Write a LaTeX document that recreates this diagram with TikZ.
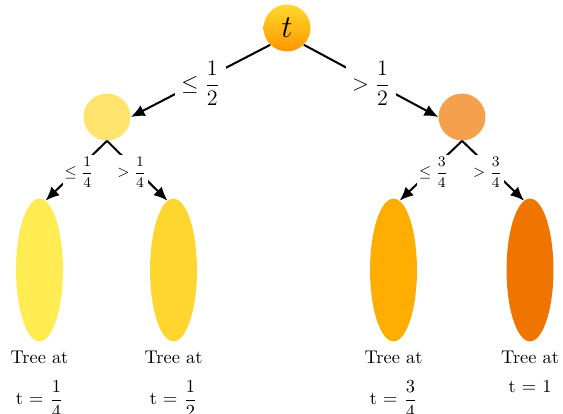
\documentclass[tikz,border=0pt]{standalone}
\usepackage{amsmath}
\usetikzlibrary{arrows.meta, positioning, shapes.geometric}

\definecolor{rootTop}{RGB}{255,217,45}
\definecolor{rootBot}{RGB}{255,150,0}
\definecolor{lowMid}{RGB}{255,227,110}
\definecolor{highMid}{RGB}{244,160,76}
\definecolor{leafOne}{RGB}{255,236,82}
\definecolor{leafTwo}{RGB}{255,214,48}
\definecolor{leafThree}{RGB}{255,173,0}
\definecolor{leafFour}{RGB}{240,117,0}

\begin{document}
\begin{tikzpicture}[scale = 0.0191,
  split/.style = {circle, minimum size = 25.5pt, inner sep = 0pt},
  leaf/.style = {ellipse, minimum width = 25.5pt, minimum height = 77.6pt, inner sep = 0pt},
  branch/.style = {line width = 1.1pt, -{Latex[length = 7.5pt, width = 6.5pt]}},
  cond/.style = {fill = white, font = \large, yshift = -1.5pt},
  subcond/.style = {fill = white, font = \footnotesize, inner sep = 1pt, pos = 0.53},
  treelabel/.style = {align = center, below = 1.5pt of #1}]
\useasboundingbox (0, 0) rectangle (563, -414);

\node[split, top color = rootTop, bottom color = rootBot, font = \LARGE] (root) at (287, -28) {$t$};
\node[split, fill = lowMid] (low) at (107, -117) {};
\node[split, fill = highMid] (high) at (462, -117) {};

\node[leaf, fill = leafOne] (leafA) at (39.5, -270) {};
\node[leaf, fill = leafTwo] (leafB) at (173.5, -270) {};
\node[leaf, fill = leafThree] (leafC) at (393.5, -270) {};
\node[leaf, fill = leafFour] (leafD) at (530, -270) {};

\node[treelabel = leafA] (capA) {Tree at\\[8pt] t = $\dfrac{1}{4}$};
\node[treelabel = leafB] (capB) {Tree at\\[8pt] t = $\dfrac{1}{2}$};
\node[treelabel = leafC] (capC) {Tree at\\[8pt] t = $\dfrac{3}{4}$};
\node[treelabel = leafD] (capD) {Tree at\\[4pt] t = 1};

\draw[branch] (root.south west) -- node[cond] {$\le \dfrac{1}{2}$} (low.east);
\draw[branch] (root.south east) -- node[cond] {$> \dfrac{1}{2}$} (high.west);

\draw[branch] (low.south) -- node[subcond, xshift = 2.5pt] {$\le \dfrac{1}{4}$} (leafA.85);
\draw[branch] (low.south) -- node[subcond, xshift = -4pt] {$> \dfrac{1}{4}$} (leafB.95);
\draw[branch] (high.south) -- node[subcond, xshift = 2.5pt] {$\le \dfrac{3}{4}$} (leafC.85);
\draw[branch] (high.south) -- node[subcond, xshift = -4pt] {$> \dfrac{3}{4}$} (leafD.95);
\end{tikzpicture}
\end{document}
